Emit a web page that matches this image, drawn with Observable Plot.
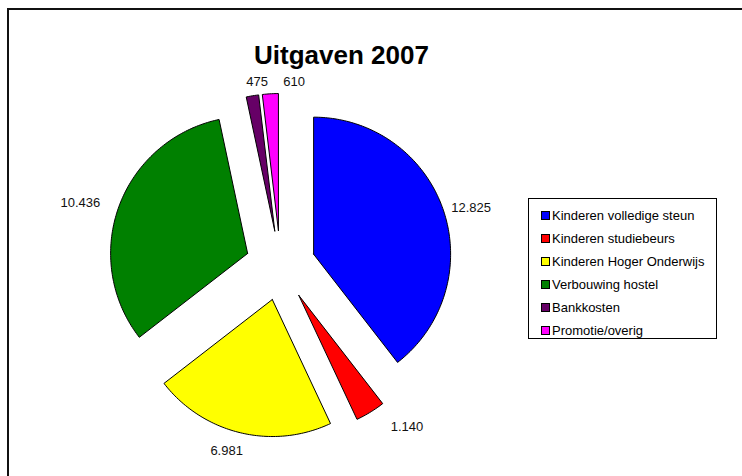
<!DOCTYPE html>
<html>
<head>
<meta charset="utf-8">
<script src="https://cdn.jsdelivr.net/npm/d3@7"></script>
<script src="https://cdn.jsdelivr.net/npm/@observablehq/plot@0.6"></script>
<style>
  body { margin: 0; background: #fff; font-family: "Liberation Sans", Arial, sans-serif; }
  #wrap { position: relative; width: 742px; height: 476px; overflow: hidden; background: #fff; }
  #frame { position: absolute; left: 7px; top: 8px; right: -10px; bottom: -10px;
           border-top: 2px solid #111; border-left: 2px solid #111; }
  #chart { position: absolute; left: 0; top: 0; }
  #title { position: absolute; left: 341.5px; top: 41.5px; transform: translateX(-50%);
           font-size: 26px; line-height: 26px; font-weight: bold; color: #000; white-space: nowrap; }
  #legend { position: absolute; left: 528px; top: 198px; width: 189px; height: 141px;
            border: 1px solid #000; background: #fff; box-sizing: border-box; }
  .item { position: absolute; left: 12px; height: 16px; display: flex; align-items: center;
          font-size: 13px; color: #000; white-space: nowrap; }
  .sw { width: 7px; height: 7px; border: 1px solid #000; margin-right: 2px; }
</style>
</head>
<body>
<div id="wrap">
  <div id="frame"></div>
  <div id="chart"></div>
  <div id="title">Uitgaven 2007</div>
  <div id="legend"></div>
</div>
<script>
// ---- data ----
const categories = ["Kinderen volledige steun", "Kinderen studiebeurs", "Kinderen Hoger Onderwijs",
                    "Verbouwing hostel", "Bankkosten", "Promotie/overig"];
const values = [12825, 1140, 6981, 10436, 475, 610];
const colors = ["#0000ff", "#ff0000", "#ffff00", "#008000", "#660066", "#ff00ff"];

// ---- layout ----
const W = 742, H = 476, cx = 280, cy = 265, R = 137, explode = 35;
const labelNudge = [[-2, 3], [22, 1], [-7, 2], [-9, 2], [8, 2], [25, 4]];

const fmt = d3.formatLocale({decimal: ",", thousands: ".", grouping: [3], currency: ["", ""]}).format(",");
const arcs = d3.pie().sort(null).startAngle(0).endAngle(2 * Math.PI)(values);

const pts = [];
const labels = [];
arcs.forEach((a, i) => {
  const name = categories[i];
  const mid = (a.startAngle + a.endAngle) / 2;
  const o = explode / R;
  const ox = o * Math.sin(mid), oy = o * Math.cos(mid);
  pts.push({name, x: ox, y: oy});
  const n = Math.max(2, Math.ceil((a.endAngle - a.startAngle) / (Math.PI / 180)));
  for (let k = 0; k <= n; k++) {
    const t = a.startAngle + (a.endAngle - a.startAngle) * k / n;
    pts.push({name, x: ox + Math.sin(t), y: oy + Math.cos(t)});
  }
  pts.push({name, x: ox, y: oy});
  // label: outside end, in pixel space then to scale units
  const text = fmt(values[i]);
  const ux = Math.sin(mid), uy = -Math.cos(mid);
  const axp = cx + (ox + ux) * R, ayp = cy - (oy - uy) * R;
  const hw = text.length * 3.6, hh = 6.5, g = 10;
  const lx = axp + g * ux + hw * ux + labelNudge[i][0];
  const ly = ayp + g * uy + hh * uy + labelNudge[i][1];
  labels.push({text, x: (lx - cx) / R, y: (cy - ly) / R});
});

const chart = Plot.plot({
  width: W, height: H,
  marginTop: 0, marginRight: 0, marginBottom: 0, marginLeft: 0,
  style: {fontFamily: "'Liberation Sans', Arial, sans-serif", background: "transparent"},
  x: {domain: [-cx / R, (W - cx) / R], axis: null},
  y: {domain: [(cy - H) / R, cy / R], axis: null},
  color: {domain: categories, range: colors},
  marks: [
    Plot.line(pts, {x: "x", y: "y", z: "name", fill: "name", stroke: "#000", strokeWidth: 1, curve: "linear", strokeLinejoin: "miter"}),
    Plot.text(labels, {x: "x", y: "y", text: "text", fontSize: 13, fill: "#111"})
  ]
});
document.getElementById("chart").appendChild(chart);

// legend
const legend = document.getElementById("legend");
categories.forEach((c, i) => {
  const it = document.createElement("div");
  it.className = "item";
  it.style.top = (8 + i * 23) + "px";
  const sw = document.createElement("span");
  sw.className = "sw";
  sw.style.background = colors[i];
  it.appendChild(sw);
  const tx = document.createElement("span");
  tx.textContent = c;
  it.appendChild(tx);
  legend.appendChild(it);
});
</script>
</body>
</html>
